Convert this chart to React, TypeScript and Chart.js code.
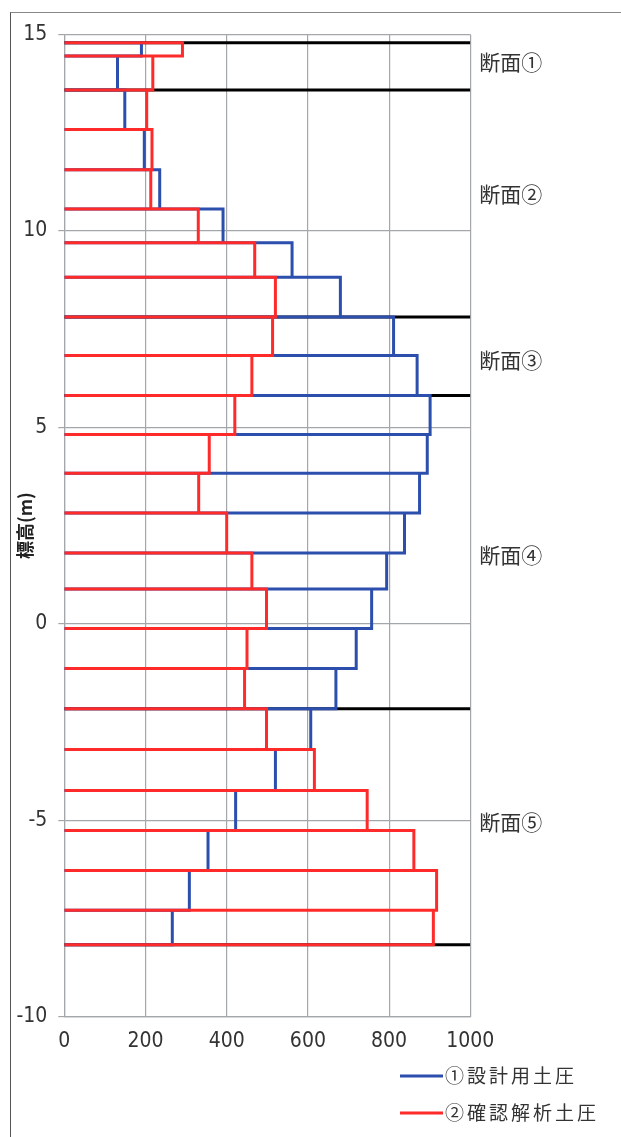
import React, { useEffect, useRef } from 'react';
import { Chart, registerables } from 'chart.js';

Chart.register(...registerables);

// Layer boundary elevations (m), top to bottom
const elevations = [14.79, 14.45, 13.59, 12.58, 11.56, 10.56, 9.7, 8.82, 7.81, 6.83, 5.81, 4.82, 3.83, 2.82, 1.8, 0.885, -0.12, -1.14, -2.16, -3.2, -4.24, -5.26, -6.28, -7.29, -8.17];
// ① design earth pressure per layer
const designPressure = [190, 131, 149, 197, 235, 391, 561, 680, 811, 869, 901, 894, 875, 838, 794, 757, 719, 669, 607, 520, 422, 354, 308, 266];
// ② verification-analysis earth pressure per layer
const analysisPressure = [291, 218, 203, 216, 213, 330, 469, 520, 513, 462, 420, 357, 331, 400, 462, 498, 450, 444, 498, 616, 746, 861, 917, 909];
// section boundary elevations (black lines)
const sectionBoundaries = [14.79, 13.59, 7.81, 5.81, -2.16, -8.17];
const sectionLabels = ['断面①', '断面②', '断面③', '断面④', '断面⑤'];
const sectionLabelElevations = [14.3, 10.93, 6.72, 1.76, -5.04];
const seriesNames = ['①設計用土圧', '②確認解析土圧'];
const seriesColors = ['#2c4fae', '#ff2b2b'];
const yAxisTitle = '標高(m)';
const xMin = 0;
const xMax = 1000;
const xStep = 200;
const yMin = -10;
const yMax = 15;
const yStep = 5;

const NUM_FONT = "'Liberation Sans Narrow', 'DejaVu Sans Condensed', 'Liberation Sans', sans-serif";
const CJK_FONT = "'Noto Sans CJK JP', 'Noto Sans', sans-serif";

function stepProfile(values: number[]) {
  const pts: { x: number; y: number }[] = [];
  values.forEach((v, i) => {
    const top = elevations[i];
    const bot = elevations[i + 1];
    pts.push({ x: 0, y: top }, { x: v, y: top }, { x: v, y: bot }, { x: 0, y: bot });
  });
  return pts;
}

const extrasPlugin = {
  id: 'extras',
  afterDraw(chart: any) {
    const ctx = chart.ctx as CanvasRenderingContext2D;
    const area = chart.chartArea;
    const ys = chart.scales.y;
    ctx.save();
    // section labels
    ctx.fillStyle = '#333';
    ctx.font = `21px ${CJK_FONT}`;
    ctx.textAlign = 'left';
    ctx.textBaseline = 'middle';
    sectionLabels.forEach((t, i) => {
      ctx.fillText(t, area.right + 9, ys.getPixelForValue(sectionLabelElevations[i]));
    });
    // legend
    const legendX = 400;
    const legendYs = [1076, 1113];
    ctx.font = `19px ${CJK_FONT}`;
    try { (ctx as any).letterSpacing = '3px'; } catch (e) {}
    seriesNames.forEach((name, i) => {
      ctx.strokeStyle = seriesColors[i];
      ctx.lineWidth = 3;
      ctx.beginPath();
      ctx.moveTo(legendX, legendYs[i]);
      ctx.lineTo(legendX + 43, legendYs[i]);
      ctx.stroke();
      ctx.fillStyle = '#333';
      ctx.fillText(name, legendX + 45, legendYs[i]);
    });
    ctx.restore();
  },
};

export default function App() {
  const canvasRef = useRef<HTMLCanvasElement | null>(null);

  useEffect(() => {
    if (!canvasRef.current) return;
    const blackSets = sectionBoundaries.map((b) => ({
      label: 'section',
      data: [
        { x: xMin, y: b },
        { x: xMax, y: b },
      ],
      showLine: true,
      borderColor: '#000',
      borderWidth: 3,
      pointRadius: 0,
      order: 3,
    }));
    const chart = new Chart(canvasRef.current, {
      type: 'scatter',
      data: {
        datasets: [
          {
            label: seriesNames[0],
            data: stepProfile(designPressure),
            showLine: true,
            borderColor: seriesColors[0],
            backgroundColor: seriesColors[0],
            borderWidth: 3,
            pointRadius: 0,
            order: 2,
          },
          {
            label: seriesNames[1],
            data: stepProfile(analysisPressure),
            showLine: true,
            borderColor: seriesColors[1],
            backgroundColor: seriesColors[1],
            borderWidth: 3,
            pointRadius: 0,
            order: 1,
          },
          ...blackSets,
        ],
      },
      options: {
        responsive: false,
        animation: false,
        devicePixelRatio: 1,
        layout: { padding: { left: 8, top: 34.5, right: 150.7, bottom: 0 } },
        plugins: {
          legend: { display: false },
          tooltip: { enabled: false },
        },
        scales: {
          x: {
            type: 'linear',
            min: xMin,
            max: xMax,
            ticks: {
              stepSize: xStep,
              maxRotation: 0,
              padding: 12,
              color: '#333',
              font: { family: NUM_FONT, size: 21 },
              callback: (v: any) => String(v),
            },
            grid: { color: '#a3a7aa', lineWidth: 1.2, drawTicks: false },
            border: { color: '#a3a7aa', width: 1.2 },
            afterFit: (s: any) => {
              s.height = 120.3;
            },
          },
          y: {
            type: 'linear',
            min: yMin,
            max: yMax,
            ticks: {
              stepSize: yStep,
              padding: 11,
              color: '#333',
              font: { family: NUM_FONT, size: 21 },
              callback: (v: any) => String(v),
            },
            grid: { color: '#a3a7aa', lineWidth: 1.2, tickLength: 6 },
            border: { color: '#a3a7aa', width: 1.2 },
            title: {
              display: true,
              text: yAxisTitle,
              color: '#222',
              font: { family: CJK_FONT, size: 18, weight: 'bold' },
              padding: { top: 6, bottom: 0 },
            },
            afterFit: (s: any) => {
              s.width = 56.3;
            },
          },
        },
      },
      plugins: [extrasPlugin],
    } as any);
    return () => chart.destroy();
  }, []);

  return (
    <div style={{ position: 'absolute', left: 0, top: 0, width: 621, height: 1137, background: '#fff', overflow: 'hidden' }}>
      <div
        style={{
          position: 'absolute',
          left: 10,
          top: 12,
          width: 611,
          height: 1125,
          borderLeft: '1.5px solid #555',
          borderTop: '1.5px solid #888',
          boxSizing: 'border-box',
        }}
      />
      <canvas
        ref={canvasRef}
        width={621}
        height={1137}
        style={{ position: 'absolute', left: 0, top: 0, display: 'block' }}
      />
    </div>
  );
}
